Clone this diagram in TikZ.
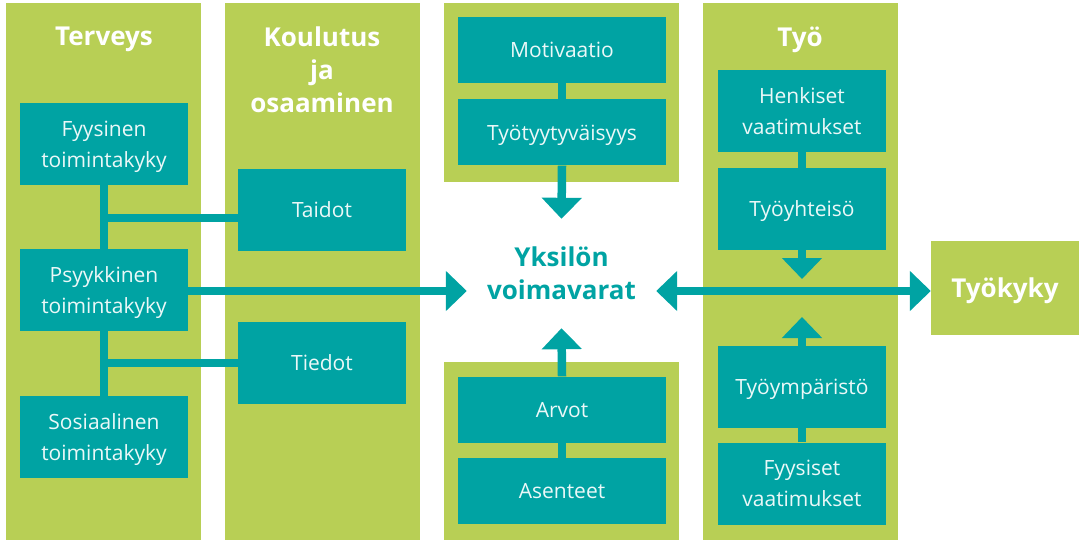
\documentclass[tikz,border=0pt]{standalone}
\usepackage{fontspec}
\setmainfont{Open Sans}
\usepackage{tikz}
\usetikzlibrary{arrows.meta,positioning}
\definecolor{kgreen}{RGB}{184,207,85}
\definecolor{kteal}{RGB}{0,163,163}

\begin{document}
\begin{tikzpicture}[
  x=1pt, y=-1pt,
  font=\fontsize{21}{31}\selectfont,
  every node/.style={align=center, inner sep=0pt},
  item/.style={fill=kteal, text=white!92!kteal, text depth=0pt, minimum width=168pt, minimum height=82pt},
  wide/.style={item, minimum width=208pt, minimum height=66pt},
  head/.style={text=white, font=\fontsize{26}{33}\selectfont\bfseries},
  link/.style={draw=kteal, line width=8.5pt},
  push/.style={link, -{Triangle[width=39pt,length=21pt]}}
]
\useasboundingbox (0,0) rectangle (1084,540);
% green areas
\fill[kgreen] (6,3) rectangle (201,540);
\fill[kgreen] (225,3) rectangle (420,540);
\fill[kgreen] (444,3) rectangle (679,182);
\fill[kgreen] (444,362) rectangle (679,540);
\fill[kgreen] (703,3) rectangle (898,540);

\node[head, anchor=north] (terv) at (104,27) {Terveys};
\node[head, anchor=north] (koul) at (322,27) {Koulutus\\ja\\osaaminen};
\node[head, anchor=north] (tyo) at (800,27) {Työ};

\node[item] (fyys) at (104,144) {Fyysinen\\toimintakyky};
\node[item] (psyk) at (104,290) {Psyykkinen\\toimintakyky};
\node[item] (sosi) at (104,437) {Sosiaalinen\\toimintakyky};
\node[item] (taid) at (322,210) {Taidot};
\node[item] (tied) at (322,363) {Tiedot};

\node[wide] (moti) at (562,50) {Motivaatio};
\node[wide] (tyyt) at (562,132.5) {Työtyytyväisyys};
\node[wide] (arvo) at (562,409.5) {Arvot};
\node[wide] (asen) at (562,491) {Asenteet};
\node[head, text=kteal, minimum width=189pt, minimum height=109pt] (core) at (561.5,273.5) {Yksilön\\voimavarat};

\node[item] (henk) at (802,111) {Henkiset\\vaatimukset};
\node[item] (yhte) at (802,209) {Työyhteisö};
\node[item] (ympa) at (802,387) {Työympäristö};
\node[item] (fyva) at (802,483.5) {Fyysiset\\vaatimukset};
\node[head, fill=kgreen, text depth=0pt, minimum width=148pt, minimum height=94pt] (kyky) at (1005,288) {Työkyky};

\coordinate (lvl) at (0,291);
\coordinate (ylos) at (802,279);
\coordinate (alas) at (802,317);

% connectors
\draw[link] (fyys.south) -- (psyk.north);
\draw[link] (psyk.south) -- (sosi.north);
\draw[link] ([yshift=-8pt]taid.west) -- ([yshift=-8pt]taid.west -| fyys.south);
\draw[link] (tied.west) -- (tied.west -| fyys.south);
\draw[push] (psyk.east |- lvl) -- (core.west |- lvl);
\draw[link] (moti.south) -- (tyyt.north);
\draw[push] (tyyt.south) -- (core.north);
\draw[link] (asen.north) -- (arvo.south);
\draw[push] (arvo.north) -- (core.south);
\draw[link] (henk.south) -- (yhte.north);
\draw[push] (yhte.south) -- (ylos);
\draw[link] (fyva.north) -- (ympa.south);
\draw[push] (ympa.north) -- (alas);
\draw[link, {Triangle[width=39pt,length=21pt]}-{Triangle[width=39pt,length=21pt]}] (core.east |- lvl) -- (kyky.west |- lvl);
\end{tikzpicture}
\end{document}
